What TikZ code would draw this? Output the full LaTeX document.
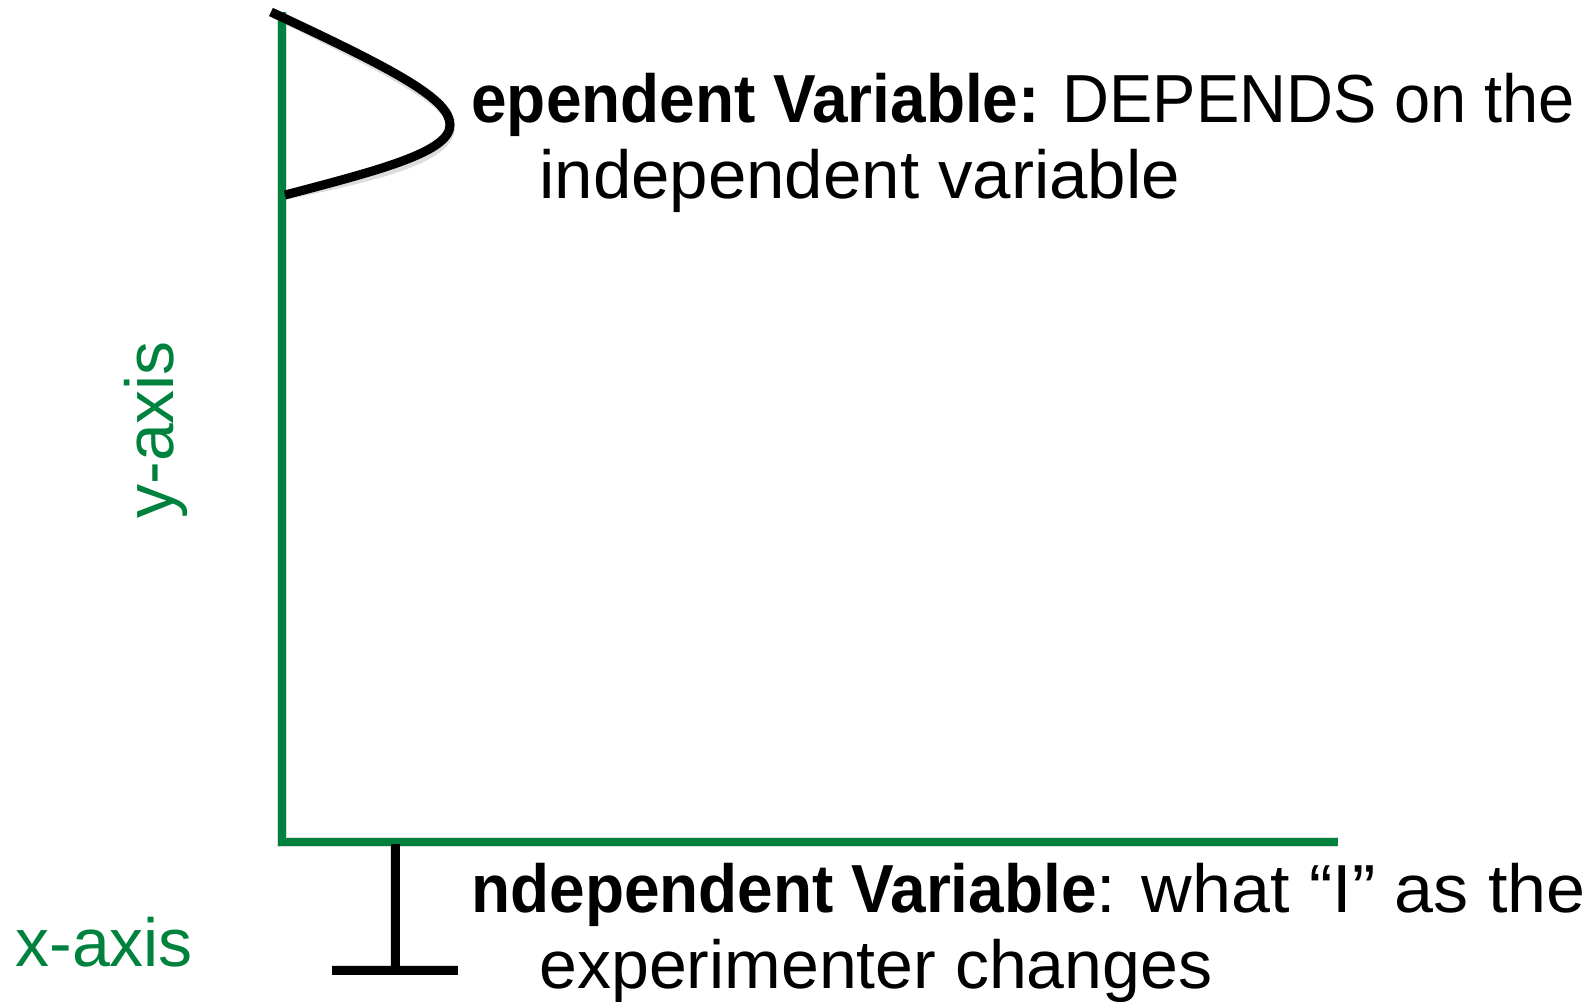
\documentclass[tikz,border=0pt]{standalone}
\usepackage{fontspec}
\setmainfont{Liberation Sans}
\definecolor{axisgreen}{RGB}{0,130,62}
\newcommand{\bx}[1]{\scalebox{0.94}[1]{\textbf{#1}}}
\tikzset{
  px/.style={x=0.5pt,y=-0.5pt},
  axisline/.style={draw=axisgreen,line width=4.3pt},
  blackline/.style={draw=black,line width=4.5pt},
  shadowline/.style={draw=black!60,line width=4.8pt,opacity=0.22},
  maintext/.style={inner sep=0pt,anchor=base west,font=\fontsize{34pt}{38pt}\selectfont},
  axislabel/.style={inner sep=0pt,text=axisgreen,font=\fontsize{34pt}{38pt}\selectfont}
}
\begin{document}
\begin{tikzpicture}[px]
\useasboundingbox (0,0) rectangle (1595,1001);
% coordinates
\coordinate (ytop) at (282,12);
\coordinate (origin) at (282,842);
\coordinate (xend) at (1338,842);
\coordinate (cstart) at (271,12);
\coordinate (ctip) at (450,125);
\coordinate (cend) at (285,195);
\coordinate (ttop) at (395,844);
\coordinate (tbot) at (395,970);
\coordinate (tleft) at (332,970);
\coordinate (tright) at (458,970);
% shadows
\begin{scope}[shift={(3,5)}]
\draw[shadowline] (ytop) -- (origin) -- (xend);
\draw[shadowline] (cstart) .. controls (400,72) and (450,100) .. (ctip) .. controls (450,152) and (380,170) .. (cend);
\draw[shadowline] (ttop) -- (tbot);
\draw[shadowline] (tleft) -- (tright);
\end{scope}
% axes
\draw[axisline] (ytop) -- (origin) -- (xend);
% curve
\draw[blackline] (cstart) .. controls (400,72) and (450,100) .. (ctip) .. controls (450,152) and (380,170) .. (cend);
% T
\draw[blackline] (ttop) -- (tbot);
\draw[blackline] (tleft) -- (tright);
% texts
\node[maintext] (dep1) at (471,122) {\bx{ependent Variable:}\hspace{2pt} \scalebox{0.955}[1]{DEPENDS on the}};
\node[maintext] (dep2) at (539,198) {\scalebox{1.015}[1]{independent variable}};
\node[maintext] (ind1) at (471,912) {\bx{ndependent Variable}\scalebox{1.03}[1]{: what “I” as the}};
\node[maintext] (ind2) at (539,988) {experimenter changes};
\node[axislabel,anchor=base west] (xlab) at (15,966) {x-axis};
\node[axislabel,anchor=base west,rotate=90] (ylab) at (173,519) {y-axis};
\end{tikzpicture}
\end{document}
